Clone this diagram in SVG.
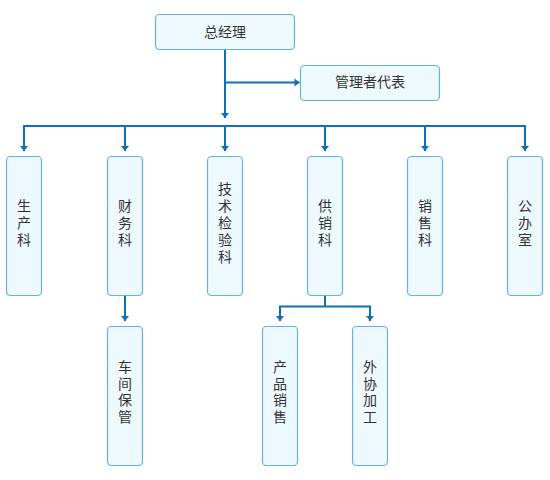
<svg xmlns="http://www.w3.org/2000/svg" width="550" height="480" viewBox="0 0 550 480">
<style>
.box{fill:#eef9fe;stroke:#66b1e2;stroke-width:1.2}
.t{font-family:"Noto Sans CJK SC","Noto Sans",sans-serif;font-size:14px;fill:#333;text-anchor:middle}
.v{writing-mode:vertical-rl;letter-spacing:2.8px}
.ln{fill:none;stroke:#0f6fb3;stroke-width:2}
</style>
<defs>
<marker id="ah" markerUnits="userSpaceOnUse" markerWidth="10" markerHeight="10" refX="5" refY="0" viewBox="0 -5 6 10" orient="auto">
<path d="M0,-4 L5,0 L0,4 z" fill="#0f6fb3"/>
</marker>
</defs>
<rect width="550" height="480" fill="#fff"/>
<g id="connectors">
<path class="ln" d="M225,49.5 V118" marker-end="url(#ah)"/>
<path class="ln" d="M225,82.5 H299.5" marker-end="url(#ah)"/>
<path class="ln" d="M24,126 H525"/>
<path class="ln" d="M24,125 V151" marker-end="url(#ah)"/>
<path class="ln" d="M125,126 V151" marker-end="url(#ah)"/>
<path class="ln" d="M225,126 V151" marker-end="url(#ah)"/>
<path class="ln" d="M325,126 V151" marker-end="url(#ah)"/>
<path class="ln" d="M425,126 V151" marker-end="url(#ah)"/>
<path class="ln" d="M525,125 V151" marker-end="url(#ah)"/>
<path class="ln" d="M125,295.5 V321" marker-end="url(#ah)"/>
<path class="ln" d="M325,295.5 V306.5"/>
<path class="ln" d="M280,321 V306.5 H370 V321" marker-end="url(#ah)"/>
<path class="ln" d="M280,307 V321" marker-end="url(#ah)"/>
</g>
<g id="n-zjl"><rect class="box" x="155.5" y="14.5" width="139" height="35" rx="4"/><text class="t" x="225" y="37">总经理</text></g>
<g id="n-gldb"><rect class="box" x="300.5" y="65.5" width="139" height="35" rx="4"/><text class="t" x="370" y="87">管理者代表</text></g>
<g id="n-sck"><rect class="box" x="6.5" y="156.5" width="35" height="139" rx="4"/><text class="t v" x="24" y="224">生产科</text></g>
<g id="n-cwk"><rect class="box" x="107.5" y="156.5" width="35" height="139" rx="4"/><text class="t v" x="125" y="224">财务科</text></g>
<g id="n-jsjyk"><rect class="box" x="207.5" y="156.5" width="35" height="139" rx="4"/><text class="t v" x="225" y="224">技术检验科</text></g>
<g id="n-gxk"><rect class="box" x="307.5" y="156.5" width="35" height="139" rx="4"/><text class="t v" x="325" y="224">供销科</text></g>
<g id="n-xsk"><rect class="box" x="407.5" y="156.5" width="35" height="139" rx="4"/><text class="t v" x="425" y="224">销售科</text></g>
<g id="n-bgs"><rect class="box" x="507.5" y="156.5" width="35" height="139" rx="4"/><text class="t v" x="525" y="224">公办室</text></g>
<g id="n-cjbg"><rect class="box" x="107.5" y="326.5" width="35" height="139" rx="4"/><text class="t v" x="125" y="393">车间保管</text></g>
<g id="n-cpxs"><rect class="box" x="262.5" y="326.5" width="35" height="139" rx="4"/><text class="t v" x="280" y="393">产品销售</text></g>
<g id="n-wxjg"><rect class="box" x="352.5" y="326.5" width="35" height="139" rx="4"/><text class="t v" x="370" y="393">外协加工</text></g>
</svg>
